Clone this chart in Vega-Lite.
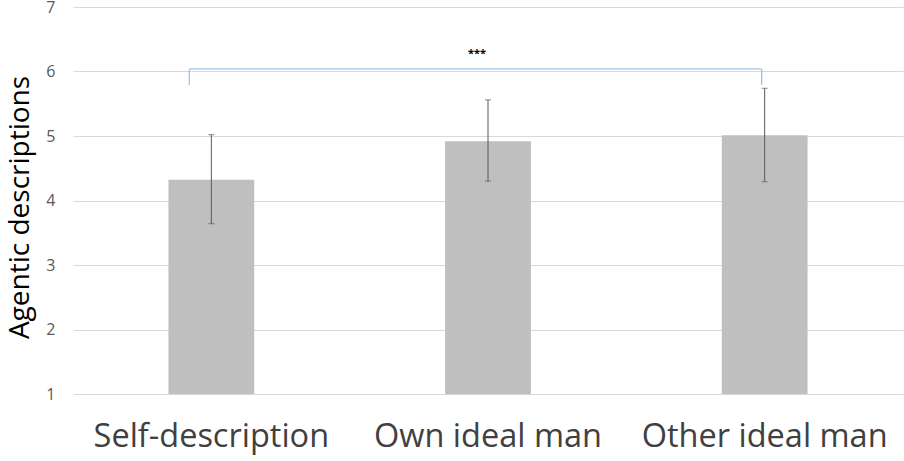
{
  "$schema": "https://vega.github.io/schema/vega-lite/v6.json",
  "autosize": {"type": "none"},
  "width": 830,
  "height": 387,
  "padding": {"left": 73, "top": 7, "right": 1, "bottom": 67},
  "background": "white",
  "config": {"view": {"stroke": null}, "font": "Open Sans"},
  "datasets": {
    "bars": [
      {"condition": "Self-description", "mean": 4.32, "lo": 3.64, "hi": 5.02},
      {"condition": "Own ideal man", "mean": 4.92, "lo": 4.30, "hi": 5.56},
      {"condition": "Other ideal man", "mean": 5.01, "lo": 4.29, "hi": 5.74}
    ],
    "bracket": [
      {"from": "Self-description", "to": "Other ideal man", "mid": "Own ideal man", "y": 6.04, "ytip": 5.79, "ylabel": 6.27, "label": "***"}
    ]
  },
  "layer": [
    {
      "data": {"name": "bars"},
      "mark": {"type": "bar", "color": "#BFBFBF"},
      "encoding": {
        "x": {
          "field": "condition", "type": "nominal", "sort": null,
          "scale": {"paddingInner": 0.69, "paddingOuter": 0.345},
          "axis": {"title": null, "labelAngle": 0, "labelFontSize": 32.5, "labelColor": "#404040", "labelPadding": 26, "labelLimit": 0, "ticks": false, "domain": false, "labelBaseline": "top"}
        },
        "y": {
          "field": "mean", "type": "quantitative",
          "scale": {"domain": [1, 7], "zero": false, "nice": false},
          "axis": {
            "title": "Agentic descriptions", "titleFontSize": 28, "titleFontWeight": "normal", "titleColor": "#000000",
            "titleX": -53, "titleY": 200, "titleAngle": -90, "titleBaseline": "middle", "titleAlign": "center",
            "values": [1, 2, 3, 4, 5, 6, 7], "format": "d", "labelFontSize": 16, "labelColor": "#595959", "labelPadding": 18,
            "ticks": false, "domain": false, "grid": true, "gridColor": "#D9D9D9", "gridWidth": 1
          }
        },
        "y2": {"datum": 1}
      }
    },
    {
      "data": {"name": "bars"},
      "mark": {"type": "rule", "color": "#595959", "strokeWidth": 1},
      "encoding": {
        "x": {"field": "condition", "type": "nominal", "sort": null},
        "y": {"field": "lo", "type": "quantitative"},
        "y2": {"field": "hi"}
      }
    },
    {
      "data": {"name": "bars"},
      "mark": {"type": "tick", "color": "#595959", "size": 6, "thickness": 1},
      "encoding": {
        "x": {"field": "condition", "type": "nominal", "sort": null},
        "y": {"field": "lo", "type": "quantitative"}
      }
    },
    {
      "data": {"name": "bars"},
      "mark": {"type": "tick", "color": "#595959", "size": 6, "thickness": 1},
      "encoding": {
        "x": {"field": "condition", "type": "nominal", "sort": null},
        "y": {"field": "hi", "type": "quantitative"}
      }
    },
    {
      "data": {"name": "bracket"},
      "mark": {"type": "rule", "color": "#9DC3E6", "strokeWidth": 1.3, "xOffset": -22, "x2Offset": -3},
      "encoding": {
        "x": {"field": "from", "type": "nominal", "sort": null},
        "x2": {"field": "to"},
        "y": {"field": "y", "type": "quantitative"}
      }
    },
    {
      "data": {"name": "bracket"},
      "mark": {"type": "rule", "color": "#9DC3E6", "strokeWidth": 1.3, "xOffset": -22},
      "encoding": {
        "x": {"field": "from", "type": "nominal", "sort": null},
        "y": {"field": "ytip", "type": "quantitative"},
        "y2": {"field": "y"}
      }
    },
    {
      "data": {"name": "bracket"},
      "mark": {"type": "rule", "color": "#9DC3E6", "strokeWidth": 1.3, "xOffset": -3},
      "encoding": {
        "x": {"field": "to", "type": "nominal", "sort": null},
        "y": {"field": "ytip", "type": "quantitative"},
        "y2": {"field": "y"}
      }
    },
    {
      "data": {"name": "bracket"},
      "mark": {"type": "text", "color": "#000000", "fontSize": 11, "fontWeight": "bold", "dx": -11, "baseline": "middle"},
      "encoding": {
        "x": {"field": "mid", "type": "nominal", "sort": null},
        "y": {"field": "ylabel", "type": "quantitative"},
        "text": {"field": "label"}
      }
    }
  ]
}
